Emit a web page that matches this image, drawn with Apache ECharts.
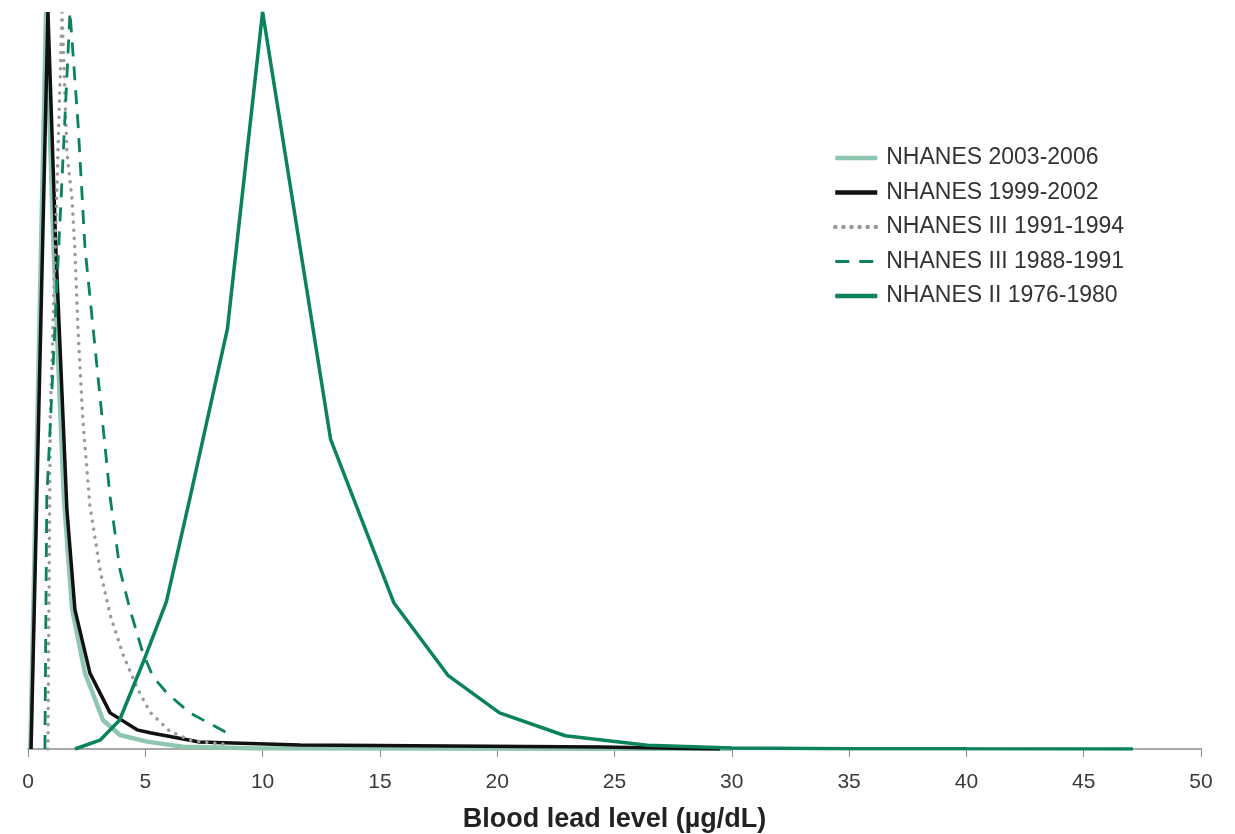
<!DOCTYPE html>
<html>
<head>
<meta charset="utf-8">
<style>
  html, body { margin: 0; padding: 0; background: #ffffff; }
  #chart { width: 1235px; height: 834px; }
</style>
<script src="https://cdn.jsdelivr.net/npm/echarts@6/dist/echarts.min.js"></script>
</head>
<body>
<div id="chart"></div>
<script>
// Blood lead level distributions (share of peak, %) by survey period
const seriesNames = [
  'NHANES 2003-2006',
  'NHANES 1999-2002',
  'NHANES III 1991-1994',
  'NHANES III 1988-1991',
  'NHANES II 1976-1980'
];

// [blood lead level µg/dL, relative frequency]
const nhanes2003 = [
  [0.1, 0], [0.77, 100], [1.1, 67], [1.53, 34], [1.88, 19], [2.43, 10.3],
  [3.2, 3.9], [3.92, 1.9], [5.07, 1.0], [6.6, 0.3], [9.5, 0.1], [25, 0.05], [30, 0]
];
const nhanes1999 = [
  [0.13, 0], [0.85, 100], [1.19, 67.7], [1.66, 32.4], [2.0, 18.9], [2.64, 10.3],
  [3.5, 4.9], [4.65, 2.6], [5.2, 2.2], [7.3, 0.95], [11.6, 0.55], [24.4, 0.27], [29.5, 0]
];
const nhanes1991 = [
  [0.85, 0], [0.95, 45], [1.45, 100], [1.66, 81], [1.88, 74.5], [2.0, 67.7],
  [2.13, 57], [2.34, 44.6], [2.64, 33], [3.07, 24.3], [3.5, 18.2], [4.05, 12.8],
  [4.65, 8.3], [5.2, 5.0], [6.05, 2.4], [6.9, 1.2], [7.46, 0.95], [8.5, 0.6]
];
const nhanes1988 = [
  [0.72, 0], [0.8, 34], [1.79, 100], [2.13, 85], [2.43, 68], [3.5, 34.2],
  [3.92, 24.3], [4.35, 18.9], [4.9, 13], [5.33, 9.8], [5.92, 7.6], [6.9, 4.9], [8.48, 2.2]
];
const nhanes1976 = [
  [2.0, 0], [3.07, 1.2], [3.9, 3.9], [4.9, 11.7], [5.9, 20], [6.9, 34], [8.5, 57],
  [10, 100], [12.9, 42], [15.6, 19.8], [17.9, 10], [20.1, 4.9], [22.9, 1.8],
  [26.4, 0.5], [30, 0.15], [35, 0.05], [40, 0.02], [47.1, 0]
];

const xTickValues = [0, 5, 10, 15, 20, 25, 30, 35, 40, 45, 50];

const darkGreen = '#0a8358';
const lightGreen = '#8fc6b0';

// per-series stroke: colour, width, dash, cap
const strokes = [
  { color: lightGreen, width: 4.5, type: 'solid', cap: 'butt' },
  { color: '#111111', width: 3.5, type: 'solid', cap: 'butt' },
  { color: '#9a9a9a', width: 3.5, type: [0.1, 8], cap: 'round' },
  { color: darkGreen, width: 2.8, type: [14, 10], cap: 'butt' },
  { color: darkGreen, width: 3.5, type: 'solid', cap: 'butt' }
];
const seriesData = [nhanes2003, nhanes1999, nhanes1991, nhanes1988, nhanes1976];

const chart = echarts.init(document.getElementById('chart'), null, { renderer: 'canvas' });

chart.setOption({
  backgroundColor: '#ffffff',
  animation: false,
  grid: { left: 28, right: 34, top: 12, bottom: 85, containLabel: false, outerBoundsMode: 'none' },
  legend: {
    orient: 'vertical',
    left: 833,
    top: 146,
    padding: 0,
    itemWidth: 42,
    itemHeight: 14,
    itemGap: 10.5,
    data: seriesNames.map((name, i) => ({
      name: name,
      lineStyle: {
        width: i === 3 ? 3.2 : 4.5,
        type: strokes[i].type,
        cap: strokes[i].cap,
        color: strokes[i].color
      }
    })),
    itemStyle: { opacity: 0 },
    textStyle: {
      fontFamily: 'Liberation Sans, Arial, sans-serif',
      fontSize: 23,
      color: '#333333',
      lineHeight: 24,
      padding: [0, 0, 0, 4]
    }
  },
  xAxis: {
    type: 'value',
    min: 0,
    max: 50,
    interval: 5,
    name: 'Blood lead level (µg/dL)',
    nameLocation: 'middle',
    nameGap: 57,
    nameTextStyle: {
      fontFamily: 'Liberation Sans, Arial, sans-serif',
      fontWeight: 'bold',
      fontSize: 27,
      color: '#222222'
    },
    axisLine: { show: true, lineStyle: { color: '#a8a8a8', width: 2 } },
    axisTick: { show: true, length: 8, inside: false, lineStyle: { color: '#8c8c8c', width: 1 } },
    axisLabel: {
      margin: 23,
      fontFamily: 'Liberation Sans, Arial, sans-serif',
      fontSize: 21,
      color: '#3a3a3a',
      customValues: xTickValues
    },
    splitLine: { show: false }
  },
  yAxis: {
    type: 'value',
    min: 0,
    max: 100,
    show: false,
    splitLine: { show: false }
  },
  series: seriesNames.map((name, i) => ({
    name: name,
    type: 'line',
    data: seriesData[i],
    symbol: 'none',
    smooth: false,
    z: 2 + i,
    lineStyle: strokes[i],
    itemStyle: { color: strokes[i].color },
    emphasis: { disabled: true }
  }))
});
</script>
</body>
</html>
